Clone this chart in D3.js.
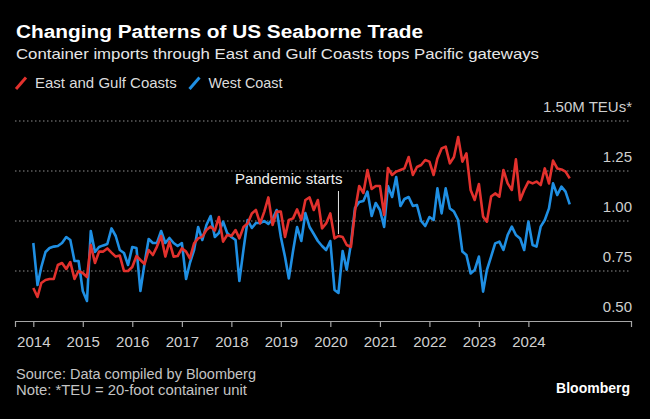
<!DOCTYPE html>
<html>
<head>
<meta charset="utf-8">
<script src="https://cdn.jsdelivr.net/npm/d3@7"></script>
<style>
  html, body { margin: 0; padding: 0; background: #000; }
  svg { display: block; }
  text { font-family: "Liberation Sans", Arial, sans-serif; }
</style>
</head>
<body>
<svg id="chart" width="650" height="419"></svg>
<script>
// ---------- Data ----------
const seriesNames = ["East and Gulf Coasts", "West Coast"];
const seriesColors = ["#e2312d", "#1f8fe3"];
const yTickValues = [0.5, 0.75, 1.0, 1.25, 1.5];
const yTickLabels = ["0.50", "0.75", "1.00", "1.25", "1.50M TEUs*"];
const xTickYears = [2014, 2015, 2016, 2017, 2018, 2019, 2020, 2021, 2022, 2023, 2024];

// Monthly imports (million TEUs), Jan 2014 – Nov 2024
const eastGulf = [
  0.665, 0.62, 0.69, 0.705, 0.71, 0.71, 0.78, 0.79, 0.76, 0.795, 0.71, 0.75,
  0.74, 0.72, 0.88, 0.79, 0.847, 0.847, 0.863, 0.842, 0.822, 0.827, 0.75, 0.75,
  0.77, 0.825, 0.805, 0.785, 0.855, 0.83, 0.872, 0.925, 0.822, 0.897, 0.822, 0.825,
  0.863, 0.847, 0.813, 0.888, 0.913, 0.922, 0.955, 0.972, 0.952, 1.02, 0.897, 0.93,
  0.925, 0.955, 0.913, 0.97, 0.988, 1.038, 1.055, 0.988, 1.047, 1.118, 0.98, 1.047,
  1.047, 0.92, 1.005, 1.013, 1.058, 1.005, 1.105, 1.118, 1.055, 1.105, 0.963, 0.988,
  1.038, 0.913, 0.925, 0.92, 0.88, 0.87, 1.05, 1.175, 1.14, 1.255, 1.16, 1.175,
  1.175, 1.03, 1.265, 1.23, 1.247, 1.255, 1.263, 1.32, 1.23, 1.27, 1.28, 1.305,
  1.297, 1.23, 1.313, 1.363, 1.372, 1.288, 1.32, 1.42, 1.297, 1.338, 1.155, 1.105,
  1.185, 1.022, 0.997, 1.122, 1.138, 1.122, 1.255, 1.188, 1.155, 1.308, 1.105, 1.155,
  1.197, 1.188, 1.197, 1.18, 1.263, 1.188, 1.302, 1.263, 1.258, 1.247, 1.213
];
const westCoast = [
  0.89, 0.68, 0.77, 0.845, 0.865, 0.872, 0.875, 0.89, 0.92, 0.905, 0.80, 0.80,
  0.65, 0.60, 0.95, 0.845, 0.87, 0.878, 0.885, 0.963, 0.925, 0.855, 0.84, 0.78,
  0.87, 0.865, 0.65, 0.79, 0.91, 0.89, 0.89, 0.95, 0.89, 0.915, 0.89, 0.875,
  0.89, 0.71, 0.79, 0.855, 0.97, 0.905, 0.98, 1.025, 0.92, 0.94, 0.997, 0.94,
  0.92, 0.905, 0.70, 0.86, 1.005, 0.965, 0.99, 0.99, 1.0, 0.985, 1.01, 1.055,
  0.92, 0.82, 0.713, 0.85, 0.97, 0.90, 1.04, 0.97, 0.935, 0.90, 0.875, 0.855,
  0.90, 0.655, 0.64, 0.85, 0.757, 0.885, 1.065, 1.095, 1.10, 1.147, 1.025, 1.09,
  1.055, 0.97, 1.175, 1.12, 1.22, 1.075, 1.11, 1.12, 1.075, 1.08, 1.0, 0.975,
  1.02, 1.005, 1.163, 1.038, 1.163, 1.063, 1.047, 1.005, 0.847, 0.83, 0.738, 0.755,
  0.822, 0.647, 0.755, 0.822, 0.888, 0.897, 0.855, 0.93, 0.972, 0.93, 0.913, 0.855,
  0.997, 0.88, 0.872, 0.972, 1.005, 1.063, 1.188, 1.13, 1.172, 1.147, 1.083
];
const months = d3.timeMonths(new Date(2014, 0, 1), new Date(2024, 11, 1));

const annotation = { date: new Date(2020, 2, 1), label: "Pandemic starts", top: 1.15, bottom: 0.935, textY: 1.185 };

// ---------- Layout ----------
const svg = d3.select("#chart");
svg.append("rect").attr("width", 650).attr("height", 419).attr("fill", "#000");

const x = d3.scaleTime()
  .domain([new Date(2013, 7, 19), new Date(2026, 0, 27)])
  .range([15, 631]);
const y = d3.scaleLinear().domain([0.5, 1.5]).range([321, 121]);

function fit(sel, w) {
  const n = sel.node();
  const len = n.getComputedTextLength();
  if (Math.abs(len - w) / w > 0.015) {
    sel.attr("textLength", w).attr("lengthAdjust", "spacingAndGlyphs");
  }
}

// Title & subtitle
fit(svg.append("text").attr("x", 16).attr("y", 37.5)
  .attr("fill", "#ffffff").attr("font-size", 18).attr("font-weight", "bold")
  .text("Changing Patterns of US Seaborne Trade"), 407);
fit(svg.append("text").attr("x", 16).attr("y", 58.5)
  .attr("fill", "#e6e6e6").attr("font-size", 15)
  .text("Container imports through East and Gulf Coasts tops Pacific gateways"), 523);

// Legend
const legendX = [16, 189.5];
const legendW = [141, 74];
seriesNames.forEach((name, i) => {
  svg.append("line")
    .attr("x1", legendX[i]).attr("y1", 89)
    .attr("x2", legendX[i] + 10).attr("y2", 77.5)
    .attr("stroke", seriesColors[i]).attr("stroke-width", 3);
  fit(svg.append("text").attr("x", legendX[i] + 19).attr("y", 87.5)
    .attr("fill", "#dcdcdc").attr("font-size", 15).text(name), legendW[i]);
});

// Gridlines
const grid = svg.append("g");
yTickValues.slice(1).forEach(v => {
  grid.append("line")
    .attr("x1", 15).attr("x2", 631)
    .attr("y1", y(v)).attr("y2", y(v))
    .attr("stroke", "#8c8c8c").attr("stroke-width", 1)
    .attr("stroke-dasharray", "1.5,2.5");
});

// Y labels (right, above the lines)
yTickValues.forEach((v, i) => {
  svg.append("text")
    .attr("x", 632).attr("y", y(v) - 9)
    .attr("text-anchor", "end")
    .attr("fill", "#cfcfcf").attr("font-size", 15)
    .text(yTickLabels[i]);
});

// X axis
const xAxis = d3.axisBottom(x)
  .tickValues(xTickYears.map(yr => new Date(yr, 0, 1)))
  .tickFormat(d3.timeFormat("%Y"))
  .tickSize(6).tickPadding(9);
const gx = svg.append("g").attr("transform", `translate(0,${y(0.5)})`).call(xAxis);
gx.select(".domain").attr("stroke", "#a6a6a6").attr("stroke-width", 1.2);
gx.selectAll(".tick line").attr("stroke", "#a6a6a6").attr("stroke-width", 1.2);
gx.selectAll(".tick text").attr("fill", "#d0d0d0").attr("font-size", 15)
  .attr("font-family", "'Liberation Sans', Arial, sans-serif");

// Lines
const line = d3.line().x((d, i) => x(months[i])).y(d => y(d)).curve(d3.curveLinear);
[westCoast, eastGulf].forEach((s, k) => {
  svg.append("path")
    .datum(s)
    .attr("fill", "none")
    .attr("stroke", k === 0 ? seriesColors[1] : seriesColors[0])
    .attr("stroke-width", 2.6)
    .attr("stroke-linejoin", "round")
    .attr("d", line);
});

// Annotation
svg.append("line")
  .attr("x1", x(annotation.date)).attr("x2", x(annotation.date))
  .attr("y1", y(annotation.top)).attr("y2", y(annotation.bottom))
  .attr("stroke", "#e6e6e6").attr("stroke-width", 1);
svg.append("text")
  .attr("x", x(annotation.date) + 4).attr("y", y(annotation.textY))
  .attr("text-anchor", "end")
  .attr("fill", "#f0f0f0").attr("font-size", 15)
  .text(annotation.label);

// Footer
fit(svg.append("text").attr("x", 16).attr("y", 379)
  .attr("fill", "#c4c4c4").attr("font-size", 14)
  .text("Source: Data compiled by Bloomberg"), 240);
fit(svg.append("text").attr("x", 16).attr("y", 394.5)
  .attr("fill", "#c4c4c4").attr("font-size", 14)
  .text("Note: *TEU = 20-foot container unit"), 231);
svg.append("text").attr("x", 630).attr("y", 392.5)
  .attr("text-anchor", "end")
  .attr("fill", "#ffffff").attr("font-size", 14).attr("font-weight", "bold")
  .text("Bloomberg");
</script>
</body>
</html>
